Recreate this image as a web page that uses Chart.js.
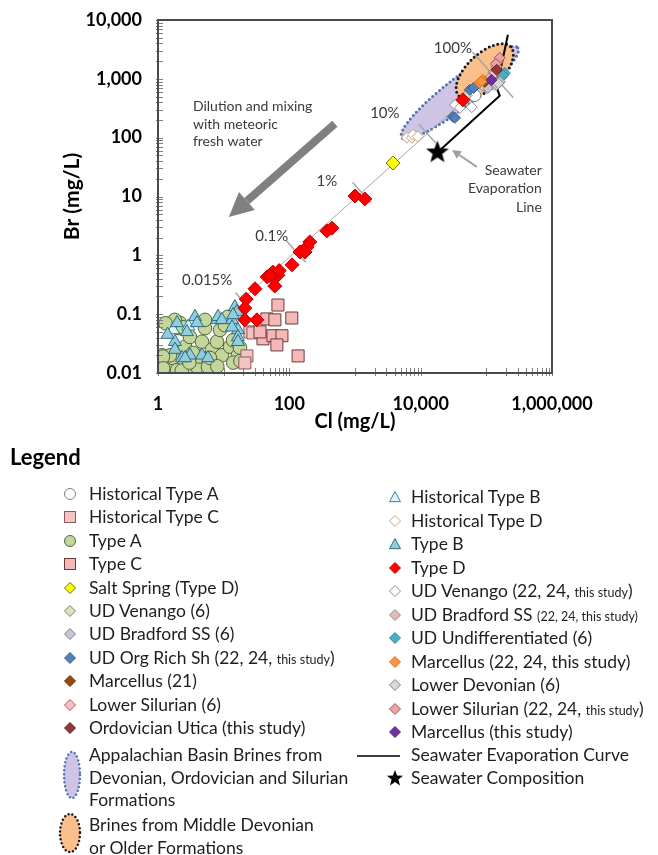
<!DOCTYPE html>
<html>
<head>
<meta charset="utf-8">
<script src="https://cdn.jsdelivr.net/npm/chart.js@4.4.0/dist/chart.umd.min.js"></script>
<style>
  body { margin: 0; background: #fff; font-family: Lato, sans-serif; }
  #cntr { position: relative; width: 658px; height: 855px; overflow: hidden; }
  #myChart { position: absolute; left: 0; top: 0; }
  #leyenda { position: absolute; left: 0; top: 0; width: 658px; height: 855px; color: #1e1e1e; }
  #leyenda .titulo { position: absolute; left: 10px; font-weight: bold; font-size: 22px; line-height: 26px; color: #000; }
  #leyenda .texto { position: absolute; font-size: 17.5px; line-height: 20px; white-space: nowrap; }
  #leyenda .texto small { font-size: 12.5px; }
  #leyenda svg { position: absolute; }
</style>
</head>
<body>
<div id="cntr">
  <canvas id="myChart" width="658" height="445"></canvas>
  <div id="leyenda"></div>
</div>
<script>
// Etiquetas de los ejes
const etiquetasX = [1, 100, 10000, 1000000];
const etiquetasY = [0.01, 0.1, 1, 10, 100, 1000, 10000];

// Datos Cl (mg/L) y Br (mg/L)
const typeA_cl = [1.15, 1.37, 1.69, 1.95, 2.16, 2.58, 2.76, 3.07, 3.92, 4.36, 4.67, 5.19, 5.77, 6.64, 7.9, 8.8, 9.4, 10.4, 12.5, 13.9, 16.5, 17.7, 2.01, 1.52, 1.19, 2.4, 3.41, 6.19, 1.8, 5.2, 11.6, 1.3, 1.2, 2.3, 3.0, 8.0, 14, 18];
const typeA_br = [0.020, 0.0127, 0.018, 0.0112, 0.071, 0.028, 0.0122, 0.041, 0.0127, 0.019, 0.034, 0.058, 0.0127, 0.025, 0.034, 0.054, 0.020, 0.065, 0.028, 0.036, 0.020, 0.027, 0.058, 0.020, 0.019, 0.060, 0.022, 0.018, 0.080, 0.080, 0.090, 0.070, 0.012, 0.011, 0.015, 0.013, 0.015, 0.016];

const typeB_cl = [1.95, 1.81, 1.81, 2.32, 2.76, 3.07, 3.66, 3.92, 4.67, 5.77, 7.9, 8.2, 9.4, 13.4, 14.8, 15.9, 13.9, 16.5, 16.5, 16.5, 2.58, 13.4, 1.4];
const typeB_br = [0.071, 0.034, 0.025, 0.018, 0.050, 0.020, 0.090, 0.071, 0.020, 0.018, 0.080, 0.090, 0.080, 0.080, 0.132, 0.109, 0.097, 0.054, 0.041, 0.034, 0.018, 0.060, 0.045];
const histB_cl = [1.69, 2.9];
const histB_br = [0.054, 0.062];

const typeC_cl = [67, 45.5, 60.3, 109, 39.7, 56.3, 77.2, 64.6, 136, 35.7];
const typeC_br = [0.143, 0.083, 0.080, 0.086, 0.038, 0.043, 0.043, 0.030, 0.0195, 0.050];
const histC_cl = [25.1, 27.9, 22.6, 21];
const histC_br = [0.050, 0.048, 0.0195, 0.0148];

const typeD_cl = [1000, 1410, 372, 446, 205, 186, 145, 173, 110, 56, 67, 46, 51, 60, 30, 22, 21, 21, 32, 70, 44000];
const typeD_br = [10.2, 9.1, 2.6, 2.9, 1.69, 1.39, 1.14, 1.14, 0.69, 0.52, 0.46, 0.43, 0.45, 0.30, 0.27, 0.18, 0.127, 0.08, 0.08, 0.55, 440];

const saltSpring_cl = [3800];
const saltSpring_br = [37];

const histD_cl = [6170, 7370, 7640, 9000, 100000];
const histD_br = [100, 100, 112, 105, 700];
const histA_cl = [113000, 95000, 66800];
const histA_br = [855, 790, 520];
const udVenango6_cl = [50000];
const udVenango6_br = [520];
const udVenango22_cl = [33300, 39500, 60000, 135000];
const udVenango22_br = [360, 320, 330, 790];
const udBradford6_cl = [105000];
const udBradford6_br = [700];
const udBradford22_cl = [113000, 128000];
const udBradford22_br = [1040, 1300];
const udOrgRich_cl = [31000, 33300, 56000, 64000];
const udOrgRich_br = [226, 217, 650, 700];
const udUndiff_cl = [191000, 172000, 180000];
const udUndiff_br = [1260, 1080, 1150];
const marcellus21_cl = [95000];
const marcellus21_br = [890];
const marcellus22_cl = [79000, 89000, 84000];
const marcellus22_br = [855, 960, 900];
const marcellusEste_cl = [120000];
const marcellusEste_br = [960];
const lowerSil6_cl = [135000, 144000];
const lowerSil6_br = [1260, 1600];
const lowerSil22_cl = [150000, 160000, 140000];
const lowerSil22_br = [1950, 2270, 1800];
const lowerDev_cl = [160000, 144000, 152000];
const lowerDev_br = [890, 790, 840];
const utica_cl = [144000];
const utica_br = [1420];

const seawater_cl = [18000];
const seawater_br = [56];
const evaporacion_cl = [18000, 160000, 144000, 213000];
const evaporacion_br = [56, 515, 710, 5600];

// Linea de mezcla: salmuera 100% y fracciones marcadas
const salmuera_cl = 126000;
const salmuera_br = 1170;
const mezclaFracciones = [1, 0.1, 0.01, 0.001, 0.00015];
const mezclaEtiquetas = ['100%', '10%', '1%', '0.1%', '0.015%'];

// Elipses (extremos del eje mayor)
const elipseApal_cl = [5150, 302000];
const elipseApal_br = [100, 3370];
const elipseBrines_cl = [38000, 235000];
const elipseBrines_br = [515, 3500];

const zip = (a, b) => a.map((v, i) => ({ x: v, y: b[i] }));

// Estrella para el agua de mar
function crearEstrella(r) {
  const c = document.createElement('canvas');
  c.width = c.height = 2 * r + 2;
  const ctx = c.getContext('2d');
  ctx.beginPath();
  for (let i = 0; i < 10; i++) {
    const rr = i % 2 ? r * 0.42 : r;
    const a = -Math.PI / 2 + i * Math.PI / 5;
    ctx.lineTo(r + 1 + rr * Math.cos(a), r + 1 + rr * Math.sin(a));
  }
  ctx.closePath();
  ctx.fillStyle = '#000';
  ctx.fill();
  return c;
}

// Series (primera = encima)
const series = [
  { label: 'Type D', cl: typeD_cl, br: typeD_br, estilo: 'rectRot', radio: 7, relleno: '#ff0000', borde: '#c00000' },
  { label: 'Salt Spring (Type D)', cl: saltSpring_cl, br: saltSpring_br, estilo: 'rectRot', radio: 7, relleno: '#ffff00', borde: '#6b6b00' },
  { label: 'Marcellus (this study)', cl: marcellusEste_cl, br: marcellusEste_br, estilo: 'rectRot', radio: 5.5, relleno: '#7030a0', borde: '#5a2480' },
  { label: 'Ordovician Utica (this study)', cl: utica_cl, br: utica_br, estilo: 'rectRot', radio: 5.5, relleno: '#953735', borde: '#632523' },
  { label: 'Lower Silurian (22, 24, this study)', cl: lowerSil22_cl, br: lowerSil22_br, estilo: 'rectRot', radio: 5.5, relleno: '#e6a5a5', borde: '#b05050' },
  { label: 'Lower Silurian (6)', cl: lowerSil6_cl, br: lowerSil6_br, estilo: 'rectRot', radio: 5.5, relleno: '#f2c0c0', borde: '#c0504d' },
  { label: 'Lower Devonian (6)', cl: lowerDev_cl, br: lowerDev_br, estilo: 'rectRot', radio: 5.5, relleno: '#d9d9d9', borde: '#7f7f7f' },
  { label: 'UD Undifferentiated (6)', cl: udUndiff_cl, br: udUndiff_br, estilo: 'rectRot', radio: 5.5, relleno: '#4bacc6', borde: '#31859c' },
  { label: 'Marcellus (22, 24, this study)', cl: marcellus22_cl, br: marcellus22_br, estilo: 'rectRot', radio: 5.5, relleno: '#f79646', borde: '#e46c0a' },
  { label: 'Marcellus (21)', cl: marcellus21_cl, br: marcellus21_br, estilo: 'rectRot', radio: 5.5, relleno: '#984807', borde: '#632f04' },
  { label: 'UD Bradford SS (22, 24, this study)', cl: udBradford22_cl, br: udBradford22_br, estilo: 'rectRot', radio: 5.5, relleno: '#e6b9b8', borde: '#8c8c8c' },
  { label: 'UD Bradford SS (6)', cl: udBradford6_cl, br: udBradford6_br, estilo: 'rectRot', radio: 5.5, relleno: '#ccc1da', borde: '#7f7f7f' },
  { label: 'UD Org Rich Sh (22, 24, this study)', cl: udOrgRich_cl, br: udOrgRich_br, estilo: 'rectRot', radio: 5.5, relleno: '#4f81bd', borde: '#385d8a' },
  { label: 'UD Venango (6)', cl: udVenango6_cl, br: udVenango6_br, estilo: 'rectRot', radio: 5.5, relleno: '#d7e4bd', borde: '#7f7f7f' },
  { label: 'UD Venango (22, 24, this study)', cl: udVenango22_cl, br: udVenango22_br, estilo: 'rectRot', radio: 5.5, relleno: '#ffffff', borde: '#8c8c8c' },
  { label: 'Historical Type A', cl: histA_cl, br: histA_br, estilo: 'circle', radio: 6, relleno: '#ffffff', borde: '#7f7f7f' },
  { label: 'Historical Type D', cl: histD_cl, br: histD_br, estilo: 'rectRot', radio: 5.5, relleno: '#ffffff', borde: '#c8a080' },
  { label: 'Type B', cl: typeB_cl, br: typeB_br, estilo: 'triangle', radio: 7.5, relleno: '#93cddd', borde: '#2c6e80' },
  { label: 'Historical Type B', cl: histB_cl, br: histB_br, estilo: 'triangle', radio: 7.5, relleno: '#e4f2f6', borde: '#31859c' },
  { label: 'Type C', cl: typeC_cl, br: typeC_br, estilo: 'rect', radio: 8.5, relleno: '#f4b8b8', borde: '#6b3a3a' },
  { label: 'Historical Type C', cl: histC_cl, br: histC_br, estilo: 'rect', radio: 8.5, relleno: '#f2c4c4', borde: '#8c5a5a' },
  { label: 'Type A', cl: typeA_cl, br: typeA_br, estilo: 'circle', radio: 6.8, relleno: '#c3d69b', borde: '#55633a' }
];

const datasets = [
  {
    label: 'Seawater Composition',
    data: zip(seawater_cl, seawater_br),
    pointStyle: crearEstrella(12),
    pointRadius: 12,
    order: 0
  }
];
series.forEach(s => datasets.push({
  label: s.label,
  data: zip(s.cl, s.br),
  pointStyle: s.estilo,
  pointRadius: s.radio,
  backgroundColor: s.relleno,
  borderColor: s.borde,
  borderWidth: 1,
  order: 1
}));
datasets.push({
  label: 'Seawater Evaporation Curve',
  data: zip(evaporacion_cl, evaporacion_br),
  showLine: true,
  borderColor: '#000',
  borderWidth: 2,
  pointRadius: 0,
  order: 5
});
datasets.push({
  label: 'mezcla',
  data: mezclaFracciones.map(f => ({ x: salmuera_cl * f, y: salmuera_br * f })),
  showLine: true,
  borderColor: '#a6a6a6',
  borderWidth: 1,
  pointRadius: 0,
  order: 10
});

// Ticks: etiquetas y marcas menores
const ticksX = [];
etiquetasX.forEach((m, i) => {
  ticksX.push(m);
  if (i < etiquetasX.length - 1) for (let k = 1; k <= 9; k++) ticksX.push(m * 10 * k);
});
const ticksY = [];
etiquetasY.forEach((m, i) => {
  ticksY.push(m);
  if (i < etiquetasY.length - 1) for (let k = 2; k <= 9; k++) ticksY.push(m * k);
});

const formato = v => v.toLocaleString('en-US', { maximumFractionDigits: 3 });

function flecha(ctx, x0, y0, x1, y1, ancho, largoCabeza, anchoCabeza, color) {
  const ang = Math.atan2(y1 - y0, x1 - x0);
  const bx = x1 - largoCabeza * Math.cos(ang);
  const by = y1 - largoCabeza * Math.sin(ang);
  ctx.save();
  ctx.strokeStyle = color;
  ctx.fillStyle = color;
  ctx.lineWidth = ancho;
  ctx.beginPath();
  ctx.moveTo(x0, y0);
  ctx.lineTo(bx, by);
  ctx.stroke();
  ctx.beginPath();
  ctx.moveTo(x1, y1);
  ctx.lineTo(bx + anchoCabeza / 2 * Math.sin(ang), by - anchoCabeza / 2 * Math.cos(ang));
  ctx.lineTo(bx - anchoCabeza / 2 * Math.sin(ang), by + anchoCabeza / 2 * Math.cos(ang));
  ctx.closePath();
  ctx.fill();
  ctx.restore();
}

const fondo = {
  id: 'fondo',
  beforeDatasetsDraw(chart) {
    const { ctx, scales: { x, y } } = chart;
    const elipses = [
      { cl: elipseApal_cl, br: elipseApal_br, ancho: 29, relleno: '#cfc4e4', borde: '#4f74b8' },
      { cl: elipseBrines_cl, br: elipseBrines_br, ancho: 35, relleno: '#fbbf8c', borde: '#1a1a1a' }
    ];
    ctx.save();
    elipses.forEach(e => {
      const x0 = x.getPixelForValue(e.cl[0]), y0 = y.getPixelForValue(e.br[0]);
      const x1 = x.getPixelForValue(e.cl[1]), y1 = y.getPixelForValue(e.br[1]);
      const a = Math.hypot(x1 - x0, y1 - y0) / 2;
      ctx.beginPath();
      ctx.ellipse((x0 + x1) / 2, (y0 + y1) / 2, a, e.ancho / 2, Math.atan2(y1 - y0, x1 - x0), 0, 2 * Math.PI);
      ctx.fillStyle = e.relleno;
      ctx.fill();
      ctx.setLineDash([0, 4.5]);
      ctx.lineCap = 'round';
      ctx.lineWidth = 3;
      ctx.strokeStyle = e.borde;
      ctx.stroke();
      ctx.setLineDash([]);
    });
    // Marcas perpendiculares de la linea de mezcla
    const px0 = x.getPixelForValue(salmuera_cl * 0.00015), py0 = y.getPixelForValue(salmuera_br * 0.00015);
    const px1 = x.getPixelForValue(salmuera_cl), py1 = y.getPixelForValue(salmuera_br);
    const d = Math.hypot(px1 - px0, py1 - py0);
    const nx = -(py1 - py0) / d, ny = (px1 - px0) / d;
    const largos = [30, 12, 13, 14, 9];
    ctx.strokeStyle = '#a6a6a6';
    ctx.lineWidth = 1.5;
    mezclaFracciones.forEach((f, i) => {
      const cx = x.getPixelForValue(salmuera_cl * f), cy = y.getPixelForValue(salmuera_br * f);
      ctx.beginPath();
      ctx.moveTo(cx - nx * largos[i], cy - ny * largos[i]);
      ctx.lineTo(cx + nx * largos[i], cy + ny * largos[i]);
      ctx.stroke();
    });
    ctx.restore();
  },
  afterDatasetsDraw(chart) {
    const { ctx, scales: { x, y } } = chart;
    const P = (cl, br) => [x.getPixelForValue(cl), y.getPixelForValue(br)];
    // Flecha de dilucion
    const [ax0, ay0] = P(494, 172), [ax1, ay1] = P(12, 4.5);
    flecha(ctx, ax0, ay0, ax1, ay1, 8, 24, 24, '#808080');
    const [bx0, by0] = P(71600, 31.8), [bx1, by1] = P(29900, 62);
    flecha(ctx, bx0, by0, bx1, by1, 2, 9, 9, '#a0a0a0');

    ctx.save();
    ctx.fillStyle = '#3a3a3a';
    ctx.textBaseline = 'middle';
    ctx.font = '14px Lato';
    ctx.textAlign = 'left';
    const [tx, ty] = P(3.4, 334);
    ['Dilution and mixing', 'with meteoric', 'fresh water'].forEach((t, i) => ctx.fillText(t, tx, ty + i * 17.5));
    ctx.textAlign = 'right';
    const [sx, sy] = P(700000, 28);
    ['Seawater', 'Evaporation', 'Line'].forEach((t, i) => ctx.fillText(t, sx, sy + i * 18.5));
    ctx.textAlign = 'center';
    ctx.font = '15px Lato';
    const posiciones = [[31000, 3370], [2850, 263], [373, 18.4], [54, 2.14], [5.6, 0.38]];
    mezclaEtiquetas.forEach((t, i) => {
      const [lx, ly] = P(posiciones[i][0], posiciones[i][1]);
      ctx.fillText(t, lx, ly);
    });
    ctx.restore();
  },
  afterDraw(chart) {
    const { ctx, chartArea: a, scales: { x, y } } = chart;
    ctx.save();
    ctx.strokeStyle = '#808080';
    ctx.lineWidth = 1;
    x.ticks.forEach(t => {
      const px = Math.round(x.getPixelForValue(t.value)) + 0.5;
      ctx.beginPath();
      ctx.moveTo(px, a.bottom + 3);
      ctx.lineTo(px, a.bottom - 5);
      ctx.stroke();
    });
    y.ticks.forEach(t => {
      const py = Math.round(y.getPixelForValue(t.value)) + 0.5;
      ctx.beginPath();
      ctx.moveTo(a.left - 2, py);
      ctx.lineTo(a.left + 5, py);
      ctx.stroke();
    });
    ctx.strokeStyle = '#4a4a4a';
    ctx.lineWidth = 2;
    ctx.strokeRect(a.left, a.top, a.right - a.left, a.bottom - a.top);
    ctx.restore();
  }
};

Chart.defaults.font.family = 'Lato';
Chart.defaults.color = '#000';

new Chart(document.getElementById('myChart'), {
  type: 'scatter',
  data: { datasets: datasets },
  options: {
    responsive: false,
    animation: false,
    devicePixelRatio: 1,
    layout: { padding: { top: 20, right: 106, left: 0, bottom: 0 } },
    plugins: { legend: { display: false }, tooltip: { enabled: false } },
    scales: {
      x: {
        type: 'logarithmic',
        min: 1,
        max: 1000000,
        afterBuildTicks: s => { s.ticks = ticksX.map(v => ({ value: v })); },
        afterFit: s => { s.height = 72; },
        ticks: {
          autoSkip: false,
          maxRotation: 0,
          padding: 12,
          font: { size: 18, weight: 'bold' },
          callback: v => etiquetasX.includes(v) ? formato(v) : ''
        },
        grid: { display: false },
        border: { display: false },
        title: { display: true, text: 'Cl (mg/L)', font: { size: 20, weight: 'bold' }, padding: { top: 0, bottom: 11 } }
      },
      y: {
        type: 'logarithmic',
        min: 0.01,
        max: 10000,
        afterBuildTicks: s => { s.ticks = ticksY.map(v => ({ value: v })); },
        afterFit: s => { s.width = 158; },
        ticks: {
          autoSkip: false,
          padding: 8,
          font: { size: 18, weight: 'bold' },
          callback: v => etiquetasY.includes(v) ? formato(v) : ''
        },
        grid: { display: false },
        border: { display: false },
        title: { display: true, text: 'Br (mg/L)', font: { size: 21, weight: 'bold' }, padding: { top: 60, bottom: 0 } }
      }
    }
  },
  plugins: [fondo]
});

// Leyenda en HTML
const leyendaIzq = ['Historical Type A', 'Historical Type C', 'Type A', 'Type C', 'Salt Spring (Type D)', 'UD Venango (6)', 'UD Bradford SS (6)', 'UD Org Rich Sh (22, 24, this study)', 'Marcellus (21)', 'Lower Silurian (6)', 'Ordovician Utica (this study)'];
const leyendaDer = ['Historical Type B', 'Historical Type D', 'Type B', 'Type D', 'UD Venango (22, 24, this study)', 'UD Bradford SS (22, 24, this study)', 'UD Undifferentiated (6)', 'Marcellus (22, 24, this study)', 'Lower Devonian (6)', 'Lower Silurian (22, 24, this study)', 'Marcellus (this study)'];
const textoPequeno = {
  'UD Org Rich Sh (22, 24, this study)': 'this study',
  'UD Venango (22, 24, this study)': 'this study',
  'UD Bradford SS (22, 24, this study)': '(22, 24, this study)',
  'Lower Silurian (22, 24, this study)': 'this study'
};

const leyenda = document.getElementById('leyenda');

function agregarTexto(html, x, y) {
  const el = document.createElement('div');
  el.className = 'texto';
  el.style.left = x + 'px';
  el.style.top = (y - 10) + 'px';
  el.innerHTML = html;
  leyenda.appendChild(el);
}

function agregarSVG(contenido, cx, cy, w, h) {
  const ns = 'http://www.w3.org/2000/svg';
  const svg = document.createElementNS(ns, 'svg');
  svg.setAttribute('width', w);
  svg.setAttribute('height', h);
  svg.style.left = (cx - w / 2) + 'px';
  svg.style.top = (cy - h / 2) + 'px';
  svg.innerHTML = contenido;
  leyenda.appendChild(svg);
}

function marcador(s, cx, cy) {
  const r = 5.5, c = 7;
  let forma;
  if (s.estilo === 'circle') forma = `<circle cx="${c}" cy="${c}" r="${r}"/>`;
  else if (s.estilo === 'rect') forma = `<rect x="${c - r}" y="${c - r}" width="${2 * r}" height="${2 * r}"/>`;
  else if (s.estilo === 'triangle') forma = `<polygon points="${c},${c - r} ${c + r},${c + r * 0.85} ${c - r},${c + r * 0.85}"/>`;
  else forma = `<polygon points="${c},${c - r} ${c + r},${c} ${c},${c + r} ${c - r},${c}"/>`;
  agregarSVG(`<g fill="${s.relleno}" stroke="${s.borde}" stroke-width="1">${forma}</g>`, cx, cy, 14, 14);
}

function textoEtiqueta(label) {
  const p = textoPequeno[label];
  if (!p) return label;
  return label.replace(p, '<small>' + p + '</small>');
}

const titulo = document.createElement('div');
titulo.className = 'titulo';
titulo.style.top = '444px';
titulo.textContent = 'Legend';
leyenda.appendChild(titulo);

leyendaIzq.forEach((l, i) => {
  const s = series.find(e => e.label === l);
  const y = 494 + i * 23.4;
  marcador(s, 70, y);
  agregarTexto(textoEtiqueta(l), 89, y);
});
leyendaDer.forEach((l, i) => {
  const s = series.find(e => e.label === l);
  const y = 497 + i * 23.5;
  marcador(s, 395, y);
  agregarTexto(textoEtiqueta(l), 411, y);
});

// Elipses de la leyenda
agregarSVG('<ellipse cx="11" cy="25" rx="8" ry="23" fill="#cfc4e4" stroke="#4f74b8" stroke-width="2.5" stroke-dasharray="0 4" stroke-linecap="round"/>', 72, 775, 22, 50);
['Appalachian Basin Brines from', 'Devonian, Ordovician and Silurian', 'Formations'].forEach((t, i) => agregarTexto(t, 89, 755 + i * 22.5));
agregarSVG('<ellipse cx="13" cy="22" rx="10" ry="19" fill="#fbbf8c" stroke="#1a1a1a" stroke-width="2.5" stroke-dasharray="0 4" stroke-linecap="round"/>', 70, 833, 26, 44);
['Brines from Middle Devonian', 'or Older Formations'].forEach((t, i) => agregarTexto(t, 89, 825 + i * 22.5));

// Curva de evaporacion y agua de mar
agregarSVG('<line x1="0" y1="2" x2="43" y2="2" stroke="#000" stroke-width="1.5"/>', 378, 756, 43, 4);
agregarTexto('Seawater Evaporation Curve', 411, 755);
let estrella = '';
for (let i = 0; i < 10; i++) {
  const rr = i % 2 ? 3.6 : 8.5;
  const a = -Math.PI / 2 + i * Math.PI / 5;
  estrella += (9 + rr * Math.cos(a)).toFixed(2) + ',' + (9.5 + rr * Math.sin(a)).toFixed(2) + ' ';
}
agregarSVG(`<polygon points="${estrella}" fill="#000"/>`, 395, 778, 18, 18);
agregarTexto('Seawater Composition', 411, 778);
</script>
</body>
</html>
